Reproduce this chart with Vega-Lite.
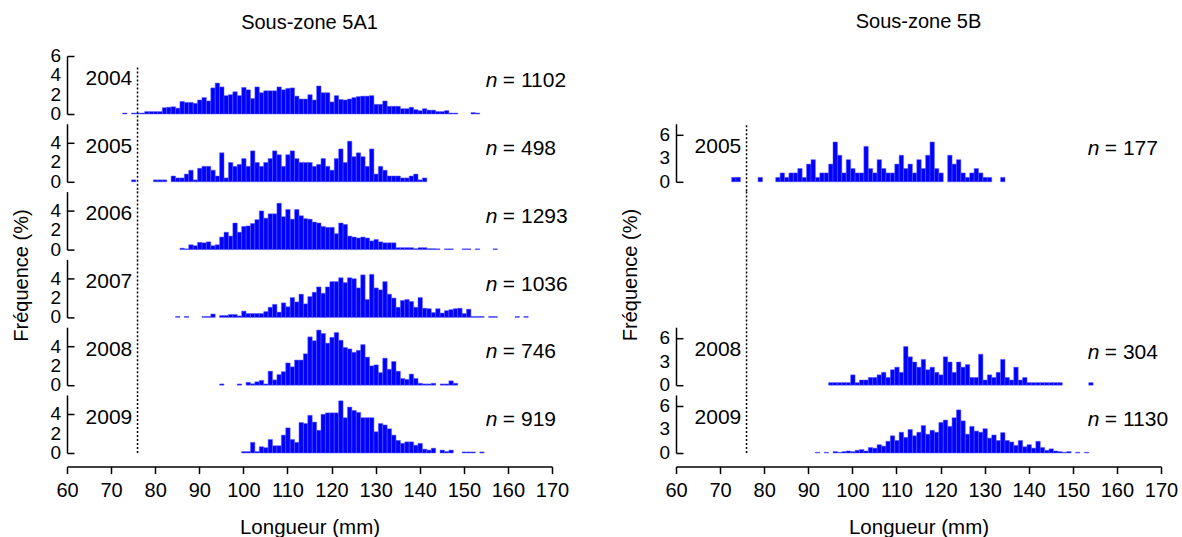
{
"$schema": "https://vega.github.io/schema/vega-lite/v6.json",
"padding": {"left": 12, "top": 12, "right": 2, "bottom": 2},
"spacing": 52,
"config": {
  "font": "Liberation Sans",
  "view": {"stroke": null},
  "axis": {"domainColor": "black", "tickColor": "black", "labelColor": "black", "titleColor": "black", "labelFontSize": 20, "titleFontSize": 20.5, "titleFontWeight": "normal", "grid": false, "domainWidth": 1.5, "tickWidth": 1.5, "labelFlush": false, "labelFont": "Liberation Sans", "titleFont": "Liberation Sans"},
  "title": {"fontSize": 20, "fontWeight": "normal", "color": "black", "font": "Liberation Sans"},
  "text": {"font": "Liberation Sans", "fontSize": 21, "color": "black"},
  "bar": {"binSpacing": 0}
},
"datasets": {
  "T6": [{"t": 0}, {"t": 2}, {"t": 4}, {"t": 6}],
  "T4": [{"t": 0}, {"t": 2}, {"t": 4}],
  "T3": [{"t": 0}, {"t": 3}, {"t": 6}],
  "L2004": [{"mm":72.5,"p":0.1},{"mm":74.5,"p":0.1},{"mm":75.5,"p":0.1},{"mm":76.5,"p":0.1},{"mm":77.5,"p":0.25},{"mm":78.5,"p":0.25},{"mm":79.5,"p":0.25},{"mm":80.5,"p":0.25},{"mm":81.5,"p":0.65},{"mm":82.5,"p":0.7},{"mm":83.5,"p":0.75},{"mm":84.5,"p":0.6},{"mm":85.5,"p":1.3},{"mm":86.5,"p":1.2},{"mm":87.5,"p":1.2},{"mm":88.5,"p":1.1},{"mm":89.5,"p":1.45},{"mm":90.5,"p":1.7},{"mm":91.5,"p":1.35},{"mm":92.5,"p":2.7},{"mm":93.5,"p":3.2},{"mm":94.5,"p":2.8},{"mm":95.5,"p":1.9},{"mm":96.5,"p":2.0},{"mm":97.5,"p":2.3},{"mm":98.5,"p":1.9},{"mm":99.5,"p":2.75},{"mm":100.5,"p":2.5},{"mm":101.5,"p":1.6},{"mm":102.5,"p":2.8},{"mm":103.5,"p":2.2},{"mm":104.5,"p":2.4},{"mm":105.5,"p":2.4},{"mm":106.5,"p":2.4},{"mm":107.5,"p":2.8},{"mm":108.5,"p":2.5},{"mm":109.5,"p":2.65},{"mm":110.5,"p":2.7},{"mm":111.5,"p":1.85},{"mm":112.5,"p":1.55},{"mm":113.5,"p":1.55},{"mm":114.5,"p":2.0},{"mm":115.5,"p":1.45},{"mm":116.5,"p":2.9},{"mm":117.5,"p":2.2},{"mm":118.5,"p":2.2},{"mm":119.5,"p":1.25},{"mm":120.5,"p":1.9},{"mm":121.5,"p":1.5},{"mm":122.5,"p":1.45},{"mm":123.5,"p":1.55},{"mm":124.5,"p":1.7},{"mm":125.5,"p":1.8},{"mm":126.5,"p":1.85},{"mm":127.5,"p":1.85},{"mm":128.5,"p":1.9},{"mm":129.5,"p":1.0},{"mm":130.5,"p":1.0},{"mm":131.5,"p":1.35},{"mm":132.5,"p":0.8},{"mm":133.5,"p":0.8},{"mm":134.5,"p":0.8},{"mm":135.5,"p":0.55},{"mm":136.5,"p":0.55},{"mm":137.5,"p":0.7},{"mm":138.5,"p":0.45},{"mm":139.5,"p":0.35},{"mm":140.5,"p":0.55},{"mm":141.5,"p":0.4},{"mm":142.5,"p":0.4},{"mm":143.5,"p":0.25},{"mm":144.5,"p":0.25},{"mm":145.5,"p":0.35},{"mm":146.5,"p":0.1},{"mm":147.5,"p":0.1},{"mm":151.5,"p":0.15},{"mm":152.5,"p":0.1}],
  "L2005": [{"mm":74.5,"p":0.2},{"mm":79.5,"p":0.2},{"mm":80.5,"p":0.2},{"mm":81.5,"p":0.2},{"mm":83.5,"p":0.6},{"mm":84.5,"p":0.4},{"mm":85.5,"p":0.4},{"mm":86.5,"p":0.8},{"mm":87.5,"p":1.2},{"mm":88.5,"p":0.2},{"mm":89.5,"p":1.4},{"mm":90.5,"p":1.6},{"mm":91.5,"p":1.6},{"mm":92.5,"p":1.2},{"mm":93.5,"p":0.6},{"mm":94.5,"p":3.0},{"mm":95.5,"p":0.4},{"mm":96.5,"p":2.0},{"mm":97.5,"p":1.6},{"mm":98.5,"p":1.8},{"mm":99.5,"p":2.4},{"mm":100.5,"p":1.6},{"mm":101.5,"p":3.2},{"mm":102.5,"p":2.0},{"mm":103.5,"p":1.6},{"mm":104.5,"p":2.0},{"mm":105.5,"p":2.4},{"mm":106.5,"p":3.2},{"mm":107.5,"p":2.8},{"mm":108.5,"p":1.6},{"mm":109.5,"p":2.8},{"mm":110.5,"p":3.2},{"mm":111.5,"p":2.4},{"mm":112.5,"p":2.0},{"mm":113.5,"p":2.0},{"mm":114.5,"p":2.0},{"mm":115.5,"p":1.6},{"mm":116.5,"p":1.8},{"mm":117.5,"p":2.4},{"mm":118.5,"p":1.6},{"mm":119.5,"p":1.2},{"mm":120.5,"p":2.4},{"mm":121.5,"p":3.4},{"mm":122.5,"p":2.0},{"mm":123.5,"p":4.2},{"mm":124.5,"p":2.6},{"mm":125.5,"p":3.0},{"mm":126.5,"p":2.6},{"mm":127.5,"p":1.6},{"mm":128.5,"p":3.4},{"mm":129.5,"p":0.8},{"mm":130.5,"p":1.6},{"mm":131.5,"p":1.2},{"mm":132.5,"p":0.6},{"mm":133.5,"p":0.6},{"mm":134.5,"p":0.6},{"mm":135.5,"p":0.4},{"mm":136.5,"p":0.4},{"mm":137.5,"p":0.6},{"mm":138.5,"p":0.8},{"mm":139.5,"p":0.2},{"mm":140.5,"p":0.4}],
  "L2006": [{"mm":85.5,"p":0.15},{"mm":86.5,"p":0.08},{"mm":87.5,"p":0.5},{"mm":88.5,"p":0.4},{"mm":89.5,"p":0.75},{"mm":90.5,"p":0.7},{"mm":91.5,"p":0.8},{"mm":92.5,"p":0.4},{"mm":93.5,"p":0.5},{"mm":94.5,"p":1.3},{"mm":95.5,"p":1.8},{"mm":96.5,"p":1.4},{"mm":97.5,"p":2.75},{"mm":98.5,"p":1.8},{"mm":99.5,"p":2.4},{"mm":100.5,"p":2.45},{"mm":101.5,"p":2.7},{"mm":102.5,"p":3.1},{"mm":103.5,"p":4.0},{"mm":104.5,"p":3.25},{"mm":105.5,"p":3.7},{"mm":106.5,"p":3.7},{"mm":107.5,"p":4.8},{"mm":108.5,"p":3.4},{"mm":109.5,"p":4.15},{"mm":110.5,"p":3.15},{"mm":111.5,"p":4.15},{"mm":112.5,"p":3.5},{"mm":113.5,"p":3.2},{"mm":114.5,"p":3.15},{"mm":115.5,"p":2.85},{"mm":116.5,"p":2.75},{"mm":117.5,"p":2.4},{"mm":118.5,"p":2.3},{"mm":119.5,"p":2.3},{"mm":120.5,"p":1.65},{"mm":121.5,"p":2.75},{"mm":122.5,"p":2.6},{"mm":123.5,"p":1.4},{"mm":124.5,"p":1.3},{"mm":125.5,"p":1.2},{"mm":126.5,"p":1.3},{"mm":127.5,"p":1.2},{"mm":128.5,"p":0.9},{"mm":129.5,"p":1.05},{"mm":130.5,"p":0.8},{"mm":131.5,"p":0.7},{"mm":132.5,"p":0.7},{"mm":133.5,"p":0.7},{"mm":134.5,"p":0.2},{"mm":135.5,"p":0.2},{"mm":136.5,"p":0.2},{"mm":137.5,"p":0.2},{"mm":138.5,"p":0.1},{"mm":139.5,"p":0.2},{"mm":140.5,"p":0.2},{"mm":141.5,"p":0.1},{"mm":142.5,"p":0.1},{"mm":143.5,"p":0.08},{"mm":145.5,"p":0.08},{"mm":146.5,"p":0.08},{"mm":149.5,"p":0.08},{"mm":150.5,"p":0.08},{"mm":152.5,"p":0.08},{"mm":156.5,"p":0.08}],
  "L2007": [{"mm":84.5,"p":0.1},{"mm":86.5,"p":0.1},{"mm":90.5,"p":0.1},{"mm":91.5,"p":0.1},{"mm":92.5,"p":0.35},{"mm":94.5,"p":0.2},{"mm":95.5,"p":0.2},{"mm":96.5,"p":0.3},{"mm":97.5,"p":0.3},{"mm":98.5,"p":0.15},{"mm":99.5,"p":0.65},{"mm":100.5,"p":0.4},{"mm":101.5,"p":0.4},{"mm":102.5,"p":0.4},{"mm":103.5,"p":0.4},{"mm":104.5,"p":0.6},{"mm":105.5,"p":1.05},{"mm":106.5,"p":1.35},{"mm":107.5,"p":0.55},{"mm":108.5,"p":1.5},{"mm":109.5,"p":1.1},{"mm":110.5,"p":2.05},{"mm":111.5,"p":1.6},{"mm":112.5,"p":2.4},{"mm":113.5,"p":1.4},{"mm":114.5,"p":2.15},{"mm":115.5,"p":2.6},{"mm":116.5,"p":3.15},{"mm":117.5,"p":2.5},{"mm":118.5,"p":3.15},{"mm":119.5,"p":3.7},{"mm":120.5,"p":3.7},{"mm":121.5,"p":4.1},{"mm":122.5,"p":3.6},{"mm":123.5,"p":4.1},{"mm":124.5,"p":4.0},{"mm":125.5,"p":3.05},{"mm":126.5,"p":4.4},{"mm":127.5,"p":1.85},{"mm":128.5,"p":4.45},{"mm":129.5,"p":3.05},{"mm":130.5,"p":2.85},{"mm":131.5,"p":3.7},{"mm":132.5,"p":2.4},{"mm":133.5,"p":2.0},{"mm":134.5,"p":1.05},{"mm":135.5,"p":1.75},{"mm":136.5,"p":1.85},{"mm":137.5,"p":1.65},{"mm":138.5,"p":1.05},{"mm":139.5,"p":2.05},{"mm":140.5,"p":0.95},{"mm":141.5,"p":0.9},{"mm":142.5,"p":0.5},{"mm":143.5,"p":0.9},{"mm":144.5,"p":0.45},{"mm":145.5,"p":0.7},{"mm":146.5,"p":0.8},{"mm":147.5,"p":0.9},{"mm":148.5,"p":0.95},{"mm":149.5,"p":0.4},{"mm":150.5,"p":0.85},{"mm":151.5,"p":0.1},{"mm":152.5,"p":0.1},{"mm":153.5,"p":0.1},{"mm":155.5,"p":0.1},{"mm":156.5,"p":0.1},{"mm":161.5,"p":0.1},{"mm":163.5,"p":0.1}],
  "L2008": [{"mm":94.5,"p":0.13},{"mm":98.5,"p":0.13},{"mm":100.5,"p":0.3},{"mm":101.5,"p":0.15},{"mm":102.5,"p":0.35},{"mm":103.5,"p":0.5},{"mm":104.5,"p":0.13},{"mm":105.5,"p":1.45},{"mm":106.5,"p":0.55},{"mm":107.5,"p":1.1},{"mm":108.5,"p":1.4},{"mm":109.5,"p":2.3},{"mm":110.5,"p":1.9},{"mm":111.5,"p":2.6},{"mm":112.5,"p":2.6},{"mm":113.5,"p":3.25},{"mm":114.5,"p":5.0},{"mm":115.5,"p":4.6},{"mm":116.5,"p":5.7},{"mm":117.5,"p":5.35},{"mm":118.5,"p":4.35},{"mm":119.5,"p":4.95},{"mm":120.5,"p":5.45},{"mm":121.5,"p":4.65},{"mm":122.5,"p":3.9},{"mm":123.5,"p":3.75},{"mm":124.5,"p":3.4},{"mm":125.5,"p":3.6},{"mm":126.5,"p":4.2},{"mm":127.5,"p":2.9},{"mm":128.5,"p":2.0},{"mm":129.5,"p":2.1},{"mm":130.5,"p":1.3},{"mm":131.5,"p":2.8},{"mm":132.5,"p":1.65},{"mm":133.5,"p":2.45},{"mm":134.5,"p":1.45},{"mm":135.5,"p":0.7},{"mm":136.5,"p":0.6},{"mm":137.5,"p":1.15},{"mm":138.5,"p":0.7},{"mm":139.5,"p":0.2},{"mm":140.5,"p":0.13},{"mm":141.5,"p":0.13},{"mm":142.5,"p":0.2},{"mm":144.5,"p":0.13},{"mm":145.5,"p":0.13},{"mm":146.5,"p":0.45},{"mm":147.5,"p":0.2}],
  "L2009": [{"mm":99.5,"p":0.15},{"mm":100.5,"p":0.15},{"mm":101.5,"p":1.1},{"mm":102.5,"p":0.15},{"mm":103.5,"p":0.65},{"mm":104.5,"p":0.55},{"mm":105.5,"p":1.4},{"mm":106.5,"p":0.75},{"mm":107.5,"p":0.75},{"mm":108.5,"p":1.85},{"mm":109.5,"p":2.6},{"mm":110.5,"p":1.4},{"mm":111.5,"p":1.1},{"mm":112.5,"p":3.15},{"mm":113.5,"p":3.05},{"mm":114.5,"p":3.9},{"mm":115.5,"p":3.2},{"mm":116.5,"p":2.35},{"mm":117.5,"p":4.0},{"mm":118.5,"p":4.15},{"mm":119.5,"p":4.15},{"mm":120.5,"p":4.15},{"mm":121.5,"p":5.4},{"mm":122.5,"p":3.65},{"mm":123.5,"p":4.75},{"mm":124.5,"p":4.4},{"mm":125.5,"p":4.2},{"mm":126.5,"p":3.65},{"mm":127.5,"p":3.65},{"mm":128.5,"p":3.65},{"mm":129.5,"p":2.2},{"mm":130.5,"p":3.05},{"mm":131.5,"p":2.9},{"mm":132.5,"p":2.5},{"mm":133.5,"p":1.85},{"mm":134.5,"p":1.3},{"mm":135.5,"p":1.0},{"mm":136.5,"p":1.15},{"mm":137.5,"p":1.15},{"mm":138.5,"p":0.8},{"mm":139.5,"p":1.0},{"mm":140.5,"p":0.4},{"mm":141.5,"p":0.3},{"mm":142.5,"p":0.5},{"mm":144.5,"p":0.3},{"mm":145.5,"p":0.15},{"mm":146.5,"p":0.3},{"mm":149.5,"p":0.11},{"mm":150.5,"p":0.11},{"mm":151.5,"p":0.11},{"mm":153.5,"p":0.11}],
  "R2005": [{"mm":72.5,"p":0.565},{"mm":73.5,"p":0.565},{"mm":78.5,"p":0.565},{"mm":82.5,"p":0.565},{"mm":83.5,"p":1.13},{"mm":84.5,"p":0.565},{"mm":85.5,"p":1.13},{"mm":86.5,"p":1.13},{"mm":87.5,"p":1.69},{"mm":88.5,"p":0.565},{"mm":89.5,"p":2.26},{"mm":90.5,"p":2.82},{"mm":91.5,"p":0.565},{"mm":92.5,"p":1.13},{"mm":93.5,"p":1.13},{"mm":94.5,"p":2.26},{"mm":95.5,"p":5.08},{"mm":96.5,"p":3.39},{"mm":97.5,"p":1.13},{"mm":98.5,"p":2.82},{"mm":99.5,"p":1.69},{"mm":100.5,"p":1.13},{"mm":101.5,"p":1.13},{"mm":102.5,"p":4.52},{"mm":103.5,"p":1.69},{"mm":104.5,"p":1.13},{"mm":105.5,"p":2.82},{"mm":106.5,"p":1.69},{"mm":107.5,"p":1.13},{"mm":108.5,"p":1.13},{"mm":109.5,"p":2.26},{"mm":110.5,"p":3.39},{"mm":111.5,"p":1.69},{"mm":112.5,"p":2.26},{"mm":113.5,"p":1.13},{"mm":114.5,"p":2.82},{"mm":115.5,"p":1.69},{"mm":116.5,"p":3.39},{"mm":117.5,"p":5.08},{"mm":118.5,"p":1.69},{"mm":119.5,"p":1.13},{"mm":121.5,"p":3.39},{"mm":122.5,"p":2.26},{"mm":123.5,"p":2.82},{"mm":124.5,"p":1.13},{"mm":125.5,"p":0.565},{"mm":126.5,"p":1.13},{"mm":127.5,"p":1.69},{"mm":128.5,"p":1.13},{"mm":129.5,"p":0.565},{"mm":130.5,"p":0.565},{"mm":133.5,"p":0.565}],
  "R2008": [{"mm":94.5,"p":0.33},{"mm":95.5,"p":0.33},{"mm":96.5,"p":0.33},{"mm":97.5,"p":0.33},{"mm":98.5,"p":0.33},{"mm":99.5,"p":1.32},{"mm":100.5,"p":0.33},{"mm":101.5,"p":0.66},{"mm":102.5,"p":0.66},{"mm":103.5,"p":0.99},{"mm":104.5,"p":0.99},{"mm":105.5,"p":1.32},{"mm":106.5,"p":1.64},{"mm":107.5,"p":0.99},{"mm":108.5,"p":1.97},{"mm":109.5,"p":2.3},{"mm":110.5,"p":1.64},{"mm":111.5,"p":4.93},{"mm":112.5,"p":3.62},{"mm":113.5,"p":2.96},{"mm":114.5,"p":2.3},{"mm":115.5,"p":3.29},{"mm":116.5,"p":1.97},{"mm":117.5,"p":2.3},{"mm":118.5,"p":1.64},{"mm":119.5,"p":1.32},{"mm":120.5,"p":3.62},{"mm":121.5,"p":2.96},{"mm":122.5,"p":1.64},{"mm":123.5,"p":2.96},{"mm":124.5,"p":2.3},{"mm":125.5,"p":2.63},{"mm":126.5,"p":0.99},{"mm":127.5,"p":0.99},{"mm":128.5,"p":3.95},{"mm":129.5,"p":0.66},{"mm":130.5,"p":1.32},{"mm":131.5,"p":0.99},{"mm":132.5,"p":1.64},{"mm":133.5,"p":3.29},{"mm":134.5,"p":0.99},{"mm":135.5,"p":0.66},{"mm":136.5,"p":2.3},{"mm":137.5,"p":0.66},{"mm":138.5,"p":0.99},{"mm":139.5,"p":0.33},{"mm":140.5,"p":0.33},{"mm":141.5,"p":0.33},{"mm":142.5,"p":0.33},{"mm":143.5,"p":0.33},{"mm":144.5,"p":0.33},{"mm":145.5,"p":0.33},{"mm":146.5,"p":0.33},{"mm":153.5,"p":0.33}],
  "R2009": [{"mm":91.5,"p":0.09},{"mm":93.5,"p":0.09},{"mm":95.5,"p":0.18},{"mm":96.5,"p":0.09},{"mm":97.5,"p":0.18},{"mm":98.5,"p":0.26},{"mm":99.5,"p":0.18},{"mm":100.5,"p":0.35},{"mm":101.5,"p":0.44},{"mm":102.5,"p":0.26},{"mm":103.5,"p":0.7},{"mm":104.5,"p":0.62},{"mm":105.5,"p":1.06},{"mm":106.5,"p":0.88},{"mm":107.5,"p":1.5},{"mm":108.5,"p":2.2},{"mm":109.5,"p":1.6},{"mm":110.5,"p":2.65},{"mm":111.5,"p":2.0},{"mm":112.5,"p":3.0},{"mm":113.5,"p":2.2},{"mm":114.5,"p":2.65},{"mm":115.5,"p":3.5},{"mm":116.5,"p":2.4},{"mm":117.5,"p":2.9},{"mm":118.5,"p":2.65},{"mm":119.5,"p":3.9},{"mm":120.5,"p":4.2},{"mm":121.5,"p":3.4},{"mm":122.5,"p":4.5},{"mm":123.5,"p":5.5},{"mm":124.5,"p":4.1},{"mm":125.5,"p":2.4},{"mm":126.5,"p":3.4},{"mm":127.5,"p":2.8},{"mm":128.5,"p":2.65},{"mm":129.5,"p":3.1},{"mm":130.5,"p":1.9},{"mm":131.5,"p":2.3},{"mm":132.5,"p":1.6},{"mm":133.5,"p":2.6},{"mm":134.5,"p":1.6},{"mm":135.5,"p":1.4},{"mm":136.5,"p":0.97},{"mm":137.5,"p":1.6},{"mm":138.5,"p":0.8},{"mm":139.5,"p":1.06},{"mm":140.5,"p":0.62},{"mm":141.5,"p":1.5},{"mm":142.5,"p":0.7},{"mm":143.5,"p":0.35},{"mm":144.5,"p":0.53},{"mm":145.5,"p":0.26},{"mm":146.5,"p":0.18},{"mm":147.5,"p":0.09},{"mm":148.5,"p":0.18},{"mm":150.5,"p":0.09},{"mm":152.5,"p":0.09}]
},
"hconcat": [
 {
  "title": {"text": "Fréquence (%)", "orient": "left", "anchor": "middle", "offset": 18},
  "spacing": 9.8,
  "bounds": "flush",
  "vconcat": [
   {"width": 485, "height": 58, "title": {"text": "Sous-zone 5A1", "anchor": "middle", "frame": "group", "offset": 14},
    "layer": [
     {"data": {"name": "L2004"}, "mark": {"type": "bar", "color": "#0000ff", "stroke": "#5a5aff", "strokeWidth": 0.5},
      "encoding": {"x": {"field": "mm", "type": "quantitative", "bin": {"binned": true, "step": 1}, "scale": {"domain": [60, 170], "nice": false, "zero": false}, "axis": null},
                   "y": {"field": "p", "type": "quantitative", "scale": {"domain": [0, 6], "nice": false}, "axis": {"values": [0, 2, 4, 6], "title": null, "tickSize": -7, "labels": false}}}},
     {"data": {"name": "T6"}, "mark": {"type": "text", "align": "right", "baseline": "middle", "dx": -6, "fontSize": 19}, "encoding": {"x": {"datum": 60}, "y": {"field": "t", "type": "quantitative"}, "text": {"field": "t", "type": "quantitative"}}},
     {"data": {"values": [{}]}, "mark": {"type": "rule", "strokeDash": [2, 2], "strokeWidth": 1.5, "color": "black"}, "encoding": {"x": {"datum": 76}, "y": {"datum": 4.8}, "y2": {"datum": -1.05}}},
     {"data": {"values": [{}]}, "mark": {"type": "text", "align": "left", "baseline": "middle"}, "encoding": {"x": {"datum": 64.2}, "y": {"datum": 3.65}, "text": {"value": "2004"}}},
     {"data": {"values": [{}]}, "mark": {"type": "text", "align": "left", "baseline": "middle", "fontStyle": "italic"}, "encoding": {"x": {"datum": 155.0}, "y": {"datum": 3.4}, "text": {"value": "n"}}},
     {"data": {"values": [{}]}, "mark": {"type": "text", "align": "left", "baseline": "middle", "dx": 17}, "encoding": {"x": {"datum": 155.0}, "y": {"datum": 3.4}, "text": {"value": "= 1102"}}}
    ]},
   {"width": 485, "height": 58,
    "layer": [
     {"data": {"name": "L2005"}, "mark": {"type": "bar", "color": "#0000ff", "stroke": "#5a5aff", "strokeWidth": 0.5},
      "encoding": {"x": {"field": "mm", "type": "quantitative", "bin": {"binned": true, "step": 1}, "scale": {"domain": [60, 170], "nice": false, "zero": false}, "axis": null},
                   "y": {"field": "p", "type": "quantitative", "scale": {"domain": [0, 6], "nice": false}, "axis": {"values": [0, 2, 4], "title": null, "tickSize": -7, "labels": false}}}},
     {"data": {"name": "T4"}, "mark": {"type": "text", "align": "right", "baseline": "middle", "dx": -6, "fontSize": 19}, "encoding": {"x": {"datum": 60}, "y": {"field": "t", "type": "quantitative"}, "text": {"field": "t", "type": "quantitative"}}},
     {"data": {"values": [{}]}, "mark": {"type": "rule", "strokeDash": [2, 2], "strokeWidth": 1.5, "color": "black"}, "encoding": {"x": {"datum": 76}, "y": {"datum": 6}, "y2": {"datum": -1.05}}},
     {"data": {"values": [{}]}, "mark": {"type": "text", "align": "left", "baseline": "middle"}, "encoding": {"x": {"datum": 64.2}, "y": {"datum": 3.65}, "text": {"value": "2005"}}},
     {"data": {"values": [{}]}, "mark": {"type": "text", "align": "left", "baseline": "middle", "fontStyle": "italic"}, "encoding": {"x": {"datum": 155.0}, "y": {"datum": 3.4}, "text": {"value": "n"}}},
     {"data": {"values": [{}]}, "mark": {"type": "text", "align": "left", "baseline": "middle", "dx": 17}, "encoding": {"x": {"datum": 155.0}, "y": {"datum": 3.4}, "text": {"value": "= 498"}}}
    ]},
   {"width": 485, "height": 58,
    "layer": [
     {"data": {"name": "L2006"}, "mark": {"type": "bar", "color": "#0000ff", "stroke": "#5a5aff", "strokeWidth": 0.5},
      "encoding": {"x": {"field": "mm", "type": "quantitative", "bin": {"binned": true, "step": 1}, "scale": {"domain": [60, 170], "nice": false, "zero": false}, "axis": null},
                   "y": {"field": "p", "type": "quantitative", "scale": {"domain": [0, 6], "nice": false}, "axis": {"values": [0, 2, 4], "title": null, "tickSize": -7, "labels": false}}}},
     {"data": {"name": "T4"}, "mark": {"type": "text", "align": "right", "baseline": "middle", "dx": -6, "fontSize": 19}, "encoding": {"x": {"datum": 60}, "y": {"field": "t", "type": "quantitative"}, "text": {"field": "t", "type": "quantitative"}}},
     {"data": {"values": [{}]}, "mark": {"type": "rule", "strokeDash": [2, 2], "strokeWidth": 1.5, "color": "black"}, "encoding": {"x": {"datum": 76}, "y": {"datum": 6}, "y2": {"datum": -1.05}}},
     {"data": {"values": [{}]}, "mark": {"type": "text", "align": "left", "baseline": "middle"}, "encoding": {"x": {"datum": 64.2}, "y": {"datum": 3.65}, "text": {"value": "2006"}}},
     {"data": {"values": [{}]}, "mark": {"type": "text", "align": "left", "baseline": "middle", "fontStyle": "italic"}, "encoding": {"x": {"datum": 155.0}, "y": {"datum": 3.4}, "text": {"value": "n"}}},
     {"data": {"values": [{}]}, "mark": {"type": "text", "align": "left", "baseline": "middle", "dx": 17}, "encoding": {"x": {"datum": 155.0}, "y": {"datum": 3.4}, "text": {"value": "= 1293"}}}
    ]},
   {"width": 485, "height": 58,
    "layer": [
     {"data": {"name": "L2007"}, "mark": {"type": "bar", "color": "#0000ff", "stroke": "#5a5aff", "strokeWidth": 0.5},
      "encoding": {"x": {"field": "mm", "type": "quantitative", "bin": {"binned": true, "step": 1}, "scale": {"domain": [60, 170], "nice": false, "zero": false}, "axis": null},
                   "y": {"field": "p", "type": "quantitative", "scale": {"domain": [0, 6], "nice": false}, "axis": {"values": [0, 2, 4], "title": null, "tickSize": -7, "labels": false}}}},
     {"data": {"name": "T4"}, "mark": {"type": "text", "align": "right", "baseline": "middle", "dx": -6, "fontSize": 19}, "encoding": {"x": {"datum": 60}, "y": {"field": "t", "type": "quantitative"}, "text": {"field": "t", "type": "quantitative"}}},
     {"data": {"values": [{}]}, "mark": {"type": "rule", "strokeDash": [2, 2], "strokeWidth": 1.5, "color": "black"}, "encoding": {"x": {"datum": 76}, "y": {"datum": 6}, "y2": {"datum": -1.05}}},
     {"data": {"values": [{}]}, "mark": {"type": "text", "align": "left", "baseline": "middle"}, "encoding": {"x": {"datum": 64.2}, "y": {"datum": 3.65}, "text": {"value": "2007"}}},
     {"data": {"values": [{}]}, "mark": {"type": "text", "align": "left", "baseline": "middle", "fontStyle": "italic"}, "encoding": {"x": {"datum": 155.0}, "y": {"datum": 3.4}, "text": {"value": "n"}}},
     {"data": {"values": [{}]}, "mark": {"type": "text", "align": "left", "baseline": "middle", "dx": 17}, "encoding": {"x": {"datum": 155.0}, "y": {"datum": 3.4}, "text": {"value": "= 1036"}}}
    ]},
   {"width": 485, "height": 58,
    "layer": [
     {"data": {"name": "L2008"}, "mark": {"type": "bar", "color": "#0000ff", "stroke": "#5a5aff", "strokeWidth": 0.5},
      "encoding": {"x": {"field": "mm", "type": "quantitative", "bin": {"binned": true, "step": 1}, "scale": {"domain": [60, 170], "nice": false, "zero": false}, "axis": null},
                   "y": {"field": "p", "type": "quantitative", "scale": {"domain": [0, 6], "nice": false}, "axis": {"values": [0, 2, 4], "title": null, "tickSize": -7, "labels": false}}}},
     {"data": {"name": "T4"}, "mark": {"type": "text", "align": "right", "baseline": "middle", "dx": -6, "fontSize": 19}, "encoding": {"x": {"datum": 60}, "y": {"field": "t", "type": "quantitative"}, "text": {"field": "t", "type": "quantitative"}}},
     {"data": {"values": [{}]}, "mark": {"type": "rule", "strokeDash": [2, 2], "strokeWidth": 1.5, "color": "black"}, "encoding": {"x": {"datum": 76}, "y": {"datum": 6}, "y2": {"datum": -1.05}}},
     {"data": {"values": [{}]}, "mark": {"type": "text", "align": "left", "baseline": "middle"}, "encoding": {"x": {"datum": 64.2}, "y": {"datum": 3.65}, "text": {"value": "2008"}}},
     {"data": {"values": [{}]}, "mark": {"type": "text", "align": "left", "baseline": "middle", "fontStyle": "italic"}, "encoding": {"x": {"datum": 155.0}, "y": {"datum": 3.4}, "text": {"value": "n"}}},
     {"data": {"values": [{}]}, "mark": {"type": "text", "align": "left", "baseline": "middle", "dx": 17}, "encoding": {"x": {"datum": 155.0}, "y": {"datum": 3.4}, "text": {"value": "= 746"}}}
    ]},
   {"width": 485, "height": 58,
    "layer": [
     {"data": {"name": "L2009"}, "mark": {"type": "bar", "color": "#0000ff", "stroke": "#5a5aff", "strokeWidth": 0.5},
      "encoding": {"x": {"field": "mm", "type": "quantitative", "bin": {"binned": true, "step": 1}, "scale": {"domain": [60, 170], "nice": false, "zero": false},
                         "axis": {"values": [60, 70, 80, 90, 100, 110, 120, 130, 140, 150, 160, 170], "format": "d", "title": "Longueur (mm)", "offset": 13.6, "tickSize": 7, "labelPadding": 7, "titlePadding": 17}},
                   "y": {"field": "p", "type": "quantitative", "scale": {"domain": [0, 6], "nice": false}, "axis": {"values": [0, 2, 4], "title": null, "tickSize": -7, "labels": false}}}},
     {"data": {"name": "T4"}, "mark": {"type": "text", "align": "right", "baseline": "middle", "dx": -6, "fontSize": 19}, "encoding": {"x": {"datum": 60}, "y": {"field": "t", "type": "quantitative"}, "text": {"field": "t", "type": "quantitative"}}},
     {"data": {"values": [{}]}, "mark": {"type": "rule", "strokeDash": [2, 2], "strokeWidth": 1.5, "color": "black"}, "encoding": {"x": {"datum": 76}, "y": {"datum": 6}, "y2": {"datum": 0}}},
     {"data": {"values": [{}]}, "mark": {"type": "text", "align": "left", "baseline": "middle"}, "encoding": {"x": {"datum": 64.2}, "y": {"datum": 3.65}, "text": {"value": "2009"}}},
     {"data": {"values": [{}]}, "mark": {"type": "text", "align": "left", "baseline": "middle", "fontStyle": "italic"}, "encoding": {"x": {"datum": 155.0}, "y": {"datum": 3.4}, "text": {"value": "n"}}},
     {"data": {"values": [{}]}, "mark": {"type": "text", "align": "left", "baseline": "middle", "dx": 17}, "encoding": {"x": {"datum": 155.0}, "y": {"datum": 3.4}, "text": {"value": "= 919"}}}
    ]}
  ]
 },
 {
  "title": {"text": "Fréquence (%)", "orient": "left", "anchor": "middle", "offset": 18},
  "spacing": 9.8,
  "bounds": "flush",
  "vconcat": [
   {"width": 485, "height": 58, "title": {"text": "Sous-zone 5B", "anchor": "middle", "frame": "group", "offset": 24},
    "data": {"values": [{}]}, "mark": {"type": "text"}, "encoding": {"text": {"value": ""}}},
   {"width": 485, "height": 58,
    "layer": [
     {"data": {"name": "R2005"}, "mark": {"type": "bar", "color": "#0000ff", "stroke": "#5a5aff", "strokeWidth": 0.5},
      "encoding": {"x": {"field": "mm", "type": "quantitative", "bin": {"binned": true, "step": 1}, "scale": {"domain": [60, 170], "nice": false, "zero": false}, "axis": null},
                   "y": {"field": "p", "type": "quantitative", "scale": {"domain": [0, 7.4], "nice": false}, "axis": {"values": [0, 3, 6], "title": null, "tickSize": -7, "labels": false}}}},
     {"data": {"name": "T3"}, "mark": {"type": "text", "align": "right", "baseline": "middle", "dx": -6, "fontSize": 19}, "encoding": {"x": {"datum": 60}, "y": {"field": "t", "type": "quantitative"}, "text": {"field": "t", "type": "quantitative"}}},
     {"data": {"values": [{}]}, "mark": {"type": "rule", "strokeDash": [2, 2], "strokeWidth": 1.5, "color": "black"}, "encoding": {"x": {"datum": 76}, "y": {"datum": 7.2}, "y2": {"datum": -1.3}}},
     {"data": {"values": [{}]}, "mark": {"type": "text", "align": "left", "baseline": "middle"}, "encoding": {"x": {"datum": 64.2}, "y": {"datum": 4.5}, "text": {"value": "2005"}}},
     {"data": {"values": [{}]}, "mark": {"type": "text", "align": "left", "baseline": "middle", "fontStyle": "italic"}, "encoding": {"x": {"datum": 153.4}, "y": {"datum": 4.15}, "text": {"value": "n"}}},
     {"data": {"values": [{}]}, "mark": {"type": "text", "align": "left", "baseline": "middle", "dx": 17}, "encoding": {"x": {"datum": 153.4}, "y": {"datum": 4.15}, "text": {"value": "= 177"}}}
    ]},
   {"width": 485, "height": 58, "data": {"values": [{}]},
    "mark": {"type": "rule", "strokeDash": [2, 2], "strokeWidth": 1.5, "color": "black"},
    "encoding": {"x": {"datum": 76, "scale": {"domain": [60, 170], "nice": false, "zero": false}, "axis": null}, "y": {"datum": 7.4, "scale": {"domain": [0, 7.4], "nice": false}, "axis": null}, "y2": {"datum": -1.3}}},
   {"width": 485, "height": 58, "data": {"values": [{}]},
    "mark": {"type": "rule", "strokeDash": [2, 2], "strokeWidth": 1.5, "color": "black"},
    "encoding": {"x": {"datum": 76, "scale": {"domain": [60, 170], "nice": false, "zero": false}, "axis": null}, "y": {"datum": 7.4, "scale": {"domain": [0, 7.4], "nice": false}, "axis": null}, "y2": {"datum": -1.3}}},
   {"width": 485, "height": 58,
    "layer": [
     {"data": {"name": "R2008"}, "mark": {"type": "bar", "color": "#0000ff", "stroke": "#5a5aff", "strokeWidth": 0.5},
      "encoding": {"x": {"field": "mm", "type": "quantitative", "bin": {"binned": true, "step": 1}, "scale": {"domain": [60, 170], "nice": false, "zero": false}, "axis": null},
                   "y": {"field": "p", "type": "quantitative", "scale": {"domain": [0, 7.4], "nice": false}, "axis": {"values": [0, 3, 6], "title": null, "tickSize": -7, "labels": false}}}},
     {"data": {"name": "T3"}, "mark": {"type": "text", "align": "right", "baseline": "middle", "dx": -6, "fontSize": 19}, "encoding": {"x": {"datum": 60}, "y": {"field": "t", "type": "quantitative"}, "text": {"field": "t", "type": "quantitative"}}},
     {"data": {"values": [{}]}, "mark": {"type": "rule", "strokeDash": [2, 2], "strokeWidth": 1.5, "color": "black"}, "encoding": {"x": {"datum": 76}, "y": {"datum": 7.4}, "y2": {"datum": -1.3}}},
     {"data": {"values": [{}]}, "mark": {"type": "text", "align": "left", "baseline": "middle"}, "encoding": {"x": {"datum": 64.2}, "y": {"datum": 4.5}, "text": {"value": "2008"}}},
     {"data": {"values": [{}]}, "mark": {"type": "text", "align": "left", "baseline": "middle", "fontStyle": "italic"}, "encoding": {"x": {"datum": 153.4}, "y": {"datum": 4.15}, "text": {"value": "n"}}},
     {"data": {"values": [{}]}, "mark": {"type": "text", "align": "left", "baseline": "middle", "dx": 17}, "encoding": {"x": {"datum": 153.4}, "y": {"datum": 4.15}, "text": {"value": "= 304"}}}
    ]},
   {"width": 485, "height": 58,
    "layer": [
     {"data": {"name": "R2009"}, "mark": {"type": "bar", "color": "#0000ff", "stroke": "#5a5aff", "strokeWidth": 0.5},
      "encoding": {"x": {"field": "mm", "type": "quantitative", "bin": {"binned": true, "step": 1}, "scale": {"domain": [60, 170], "nice": false, "zero": false},
                         "axis": {"values": [60, 70, 80, 90, 100, 110, 120, 130, 140, 150, 160, 170], "format": "d", "title": "Longueur (mm)", "offset": 13.6, "tickSize": 7, "labelPadding": 7, "titlePadding": 17}},
                   "y": {"field": "p", "type": "quantitative", "scale": {"domain": [0, 7.4], "nice": false}, "axis": {"values": [0, 3, 6], "title": null, "tickSize": -7, "labels": false}}}},
     {"data": {"name": "T3"}, "mark": {"type": "text", "align": "right", "baseline": "middle", "dx": -6, "fontSize": 19}, "encoding": {"x": {"datum": 60}, "y": {"field": "t", "type": "quantitative"}, "text": {"field": "t", "type": "quantitative"}}},
     {"data": {"values": [{}]}, "mark": {"type": "rule", "strokeDash": [2, 2], "strokeWidth": 1.5, "color": "black"}, "encoding": {"x": {"datum": 76}, "y": {"datum": 7.4}, "y2": {"datum": 0}}},
     {"data": {"values": [{}]}, "mark": {"type": "text", "align": "left", "baseline": "middle"}, "encoding": {"x": {"datum": 64.2}, "y": {"datum": 4.5}, "text": {"value": "2009"}}},
     {"data": {"values": [{}]}, "mark": {"type": "text", "align": "left", "baseline": "middle", "fontStyle": "italic"}, "encoding": {"x": {"datum": 153.4}, "y": {"datum": 4.15}, "text": {"value": "n"}}},
     {"data": {"values": [{}]}, "mark": {"type": "text", "align": "left", "baseline": "middle", "dx": 17}, "encoding": {"x": {"datum": 153.4}, "y": {"datum": 4.15}, "text": {"value": "= 1130"}}}
    ]}
  ]
 }
]
}
